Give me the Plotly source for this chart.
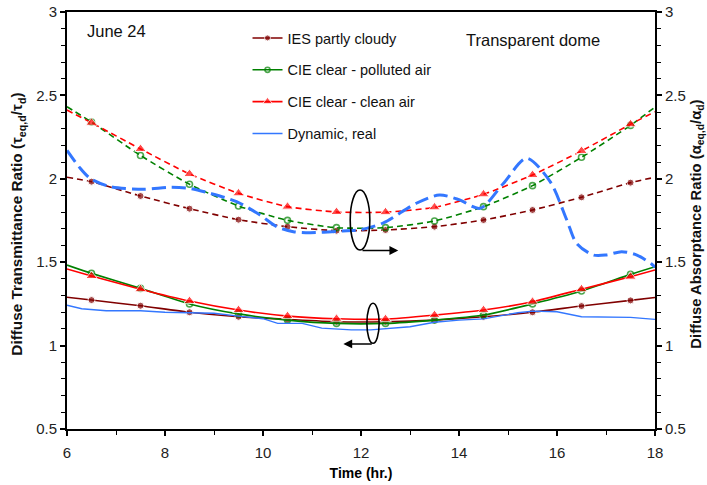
import plotly.graph_objects as go

# Hour grid: curve end points at 6 and 18, markers on the half hours between
hours = [6, 6.5, 7.5, 8.5, 9.5, 10.5, 11.5, 12.5, 13.5, 14.5, 15.5, 16.5, 17.5, 18]

# Diffuse transmittance ratio (left axis, solid curves)
tr_ies = [1.29, 1.273, 1.239, 1.200, 1.173, 1.157, 1.143, 1.143, 1.153, 1.173, 1.200, 1.237, 1.271, 1.288]
tr_polluted = [1.483, 1.433, 1.343, 1.250, 1.190, 1.153, 1.133, 1.133, 1.153, 1.183, 1.250, 1.327, 1.427, 1.473]
tr_clean = [1.459, 1.417, 1.338, 1.267, 1.213, 1.177, 1.161, 1.159, 1.183, 1.213, 1.263, 1.338, 1.413, 1.453]

# Measured transmittance ratio (no markers)
dyn_tr_hours = [6.0, 6.3, 6.8, 7.5, 8.0, 9.0, 9.5, 10.0, 10.3, 10.8, 11.2, 11.8, 12.2,
                12.5, 13.0, 13.5, 14.0, 14.5, 15.2, 15.5, 16.0, 16.5, 17.0, 17.5, 18.0]
dyn_tr = [1.242, 1.221, 1.209, 1.209, 1.200, 1.194, 1.177, 1.161, 1.133, 1.133, 1.105, 1.094, 1.094,
          1.100, 1.113, 1.140, 1.153, 1.160, 1.197, 1.207, 1.203, 1.173, 1.171, 1.169, 1.157]

# Diffuse absorptance ratio (right axis, dashed curves)
ab_ies = [2.009, 1.983, 1.897, 1.821, 1.755, 1.713, 1.689, 1.693, 1.713, 1.753, 1.813, 1.889, 1.977, 2.009]
ab_polluted = [2.432, 2.340, 2.140, 1.967, 1.837, 1.751, 1.707, 1.707, 1.747, 1.833, 1.959, 2.129, 2.320, 2.430]
ab_clean = [2.412, 2.336, 2.179, 2.029, 1.913, 1.833, 1.801, 1.800, 1.829, 1.907, 2.023, 2.167, 2.327, 2.402]

# Measured absorptance ratio
dyn_ab_hours = [6.0, 6.25, 6.47, 6.88, 7.56, 8.1, 8.5, 8.92, 9.46, 9.94, 10.28, 10.62, 10.96,
                11.5, 12.0, 12.45, 13.14, 13.6, 14.0, 14.43, 14.9, 15.38, 15.86, 16.2, 16.4,
                16.74, 17.0, 17.32, 17.63, 17.93, 18.0]
dyn_ab = [2.17, 2.07, 2.003, 1.953, 1.937, 1.949, 1.943, 1.913, 1.863, 1.783, 1.713, 1.683, 1.677,
          1.685, 1.695, 1.735, 1.855, 1.903, 1.875, 1.823, 1.97, 2.123, 1.983, 1.753, 1.613,
          1.543, 1.543, 1.563, 1.543, 1.489, 1.47]

names = ["IES partly cloudy", "CIE clear - polluted air", "CIE clear - clean air", "Dynamic, real"]
colors = ["#800000", "#008000", "#ff0000", "#3377ff"]

FONT = "Liberation Sans, Arial, sans-serif"


def sizes(n, s):
    # hide the markers on the two end points
    return [0] + [s] * (n - 2) + [0]


marker_styles = [
    dict(symbol="circle", size=sizes(len(hours), 7), color=colors[0]),
    dict(symbol="circle-open", size=sizes(len(hours), 6), color=colors[1], line=dict(width=1.6, color=colors[1])),
    dict(symbol="triangle-up", size=sizes(len(hours), 10), color=colors[2]),
]

fig = go.Figure()

for i, vals in enumerate([tr_ies, tr_polluted, tr_clean]):
    fig.add_trace(go.Scatter(
        x=hours, y=vals, name=names[i], mode="lines+markers",
        line=dict(color=colors[i], width=1.6, shape="spline", smoothing=0.6),
        marker=marker_styles[i], legendgroup=f"g{i}", cliponaxis=False,
    ))

fig.add_trace(go.Scatter(
    x=dyn_tr_hours, y=dyn_tr, name=names[3], mode="lines",
    line=dict(color=colors[3], width=1.3), legendgroup="g3",
))

for i, vals in enumerate([ab_ies, ab_polluted, ab_clean]):
    fig.add_trace(go.Scatter(
        x=hours, y=vals, name=names[i], mode="lines+markers", yaxis="y2",
        line=dict(color=colors[i], width=1.6, dash="6px,4px", shape="spline", smoothing=0.6),
        marker=marker_styles[i], showlegend=False, cliponaxis=False,
    ))

fig.add_trace(go.Scatter(
    x=dyn_ab_hours, y=dyn_ab, name=names[3], mode="lines", yaxis="y2",
    line=dict(color=colors[3], width=3, dash="14px,6px", shape="spline", smoothing=0.8),
    showlegend=False,
))

axis_common = dict(
    range=[0.5, 3], dtick=0.5, ticks="outside", ticklen=5, tickwidth=1.5, automargin=False,
    tickcolor="black", showline=True, linecolor="black", linewidth=2, showgrid=False,
    zeroline=False, tickfont=dict(family=FONT, size=15, color="#222"),
    minor=dict(dtick=0.1, ticks="outside", ticklen=4, tickwidth=1.2, tickcolor="black"),
)

fig.update_layout(
    width=707, height=485,
    margin=dict(l=67, r=52, t=12, b=56, autoexpand=False),
    paper_bgcolor="white", plot_bgcolor="white",
    font=dict(family=FONT, size=15, color="black"),
    xaxis=dict(
        range=[6, 18], dtick=2, ticks="outside", ticklen=5, tickwidth=1.5, tickcolor="black",
        showline=True, linecolor="black", linewidth=2, mirror=True, showgrid=False, zeroline=False,
        automargin=False, tickfont=dict(family=FONT, size=15, color="#222"), ticklabelstandoff=4,
        minor=dict(dtick=1, ticks="outside", ticklen=4, tickwidth=1.2, tickcolor="black"),
        title=dict(text="<b>Time (hr.)</b>", font=dict(family=FONT, size=14), standoff=8),
    ),
    yaxis=dict(**axis_common),
    yaxis2=dict(**axis_common, overlaying="y", side="right"),
    showlegend=True,
    legend=dict(
        x=0.307, y=0.976, xanchor="left", yanchor="top", bgcolor="rgba(0,0,0,0)",
        font=dict(family=FONT, size=14.5, color="#111"), traceorder="grouped", tracegroupgap=10,
        itemwidth=30,
    ),
    annotations=[
        dict(text="June 24", x=0.03, y=0.955, xref="paper", yref="paper", xanchor="left", yanchor="middle",
             showarrow=False, font=dict(family=FONT, size=16.5, color="#111")),
        dict(text="Transparent dome", x=0.676, y=0.933, xref="paper", yref="paper", xanchor="left",
             yanchor="middle", showarrow=False, font=dict(family=FONT, size=16.5, color="#111")),
        dict(text="<b>Diffuse Transmittance Ratio (τ<sub>eq,d</sub>/τ<sub>d</sub>)</b>", textangle=-90,
             x=18, y=0.49, xref="paper", yref="paper", xanchor="center", yanchor="middle",
             showarrow=False, font=dict(family=FONT, size=15.3, color="#111")),
        dict(text="<b>Diffuse Absorptance Ratio (α<sub>eq,d</sub>/α<sub>d</sub>)</b>", textangle=-90,
             x=697, y=0.49, xref="paper", yref="paper", xanchor="center", yanchor="middle",
             showarrow=False, font=dict(family=FONT, size=14.8, color="#111")),
        # pointer arrows from the ellipses to the matching axis
        dict(x=12.76, y=1.57, ax=12.0, ay=1.57, xref="x", yref="y", axref="x", ayref="y",
             text="", showarrow=True, arrowhead=2, arrowsize=1.1, arrowwidth=1.6, arrowcolor="black"),
        dict(x=11.64, y=1.01, ax=12.25, ay=1.01, xref="x", yref="y", axref="x", ayref="y",
             text="", showarrow=True, arrowhead=2, arrowsize=1.1, arrowwidth=1.6, arrowcolor="black"),
    ],
    shapes=[
        dict(type="circle", xref="x", yref="y", x0=11.78, x1=12.18, y0=1.573, y1=1.933,
             line=dict(color="black", width=1.6)),
        dict(type="circle", xref="x", yref="y", x0=12.12, x1=12.37, y0=1.014, y1=1.254,
             line=dict(color="black", width=1.6)),
    ],
)

# Pixel-based x positions for the rotated axis titles
for ann in fig.layout.annotations:
    if ann.textangle == -90:
        ann.x = (ann.x - 67) / 588

fig.write_html("out.html")
